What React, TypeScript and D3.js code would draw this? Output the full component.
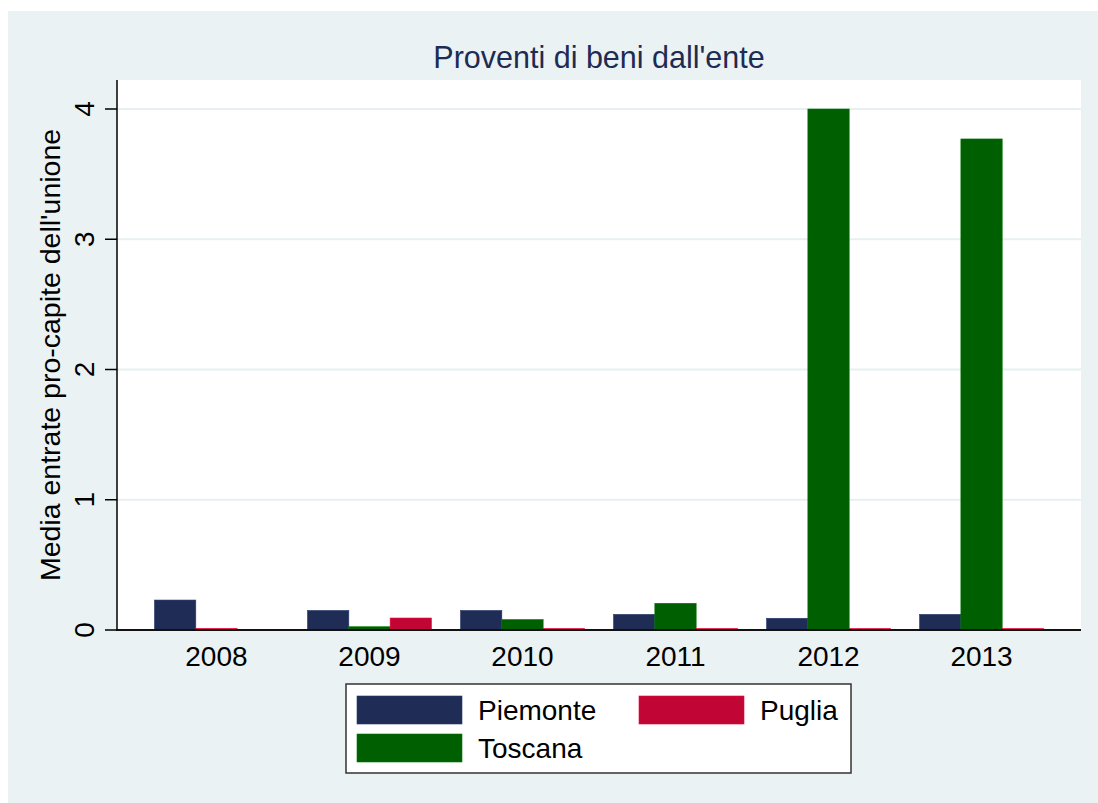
import React from 'react';
import * as d3 from 'd3';

const years = ['2008', '2009', '2010', '2011', '2012', '2013'];
const seriesNames = ['Piemonte', 'Toscana', 'Puglia'];
const piemonte = [0.23, 0.15, 0.15, 0.12, 0.09, 0.12];
const toscana: (number | null)[] = [null, 0.025, 0.08, 0.205, 4.0, 3.77];
const puglia = [0.013, 0.092, 0.012, 0.012, 0.012, 0.012];
const yTicks = [0, 1, 2, 3, 4];
const colors: Record<string, string> = { Piemonte: '#1f2d56', Toscana: '#005f00', Puglia: '#c10534' };
const values: Record<string, (number | null)[]> = { Piemonte: piemonte, Toscana: toscana, Puglia: puglia };
const legendOrder = [
  ['Piemonte', 0, 0],
  ['Puglia', 1, 0],
  ['Toscana', 0, 1],
] as const;

const W = 1098, H = 803;
const L = 117, R = 1081, T = 80, B = 630;
const FONT = '"Liberation Sans", Arial, sans-serif';

export default function App() {
  const x = d3.scalePoint<string>().domain(years).range([L, R]).padding(0.65);
  const step = x.step();
  const slot = d3.scaleBand<number>().domain([0, 1, 2]).range([-0.405 * step, 0.405 * step]).padding(0);
  const y = d3.scaleLinear().domain([0, 4]).range([B, 109]);

  return (
    <svg width={W} height={H} style={{ position: 'absolute', left: 0, top: 0, fontFamily: FONT }}>
      <rect x={0} y={0} width={W} height={H} fill="#ffffff" />
      <rect x={8} y={11} width={W - 8} height={H - 11} fill="#eaf2f3" />
      <rect x={L} y={T} width={R - L} height={B - T} fill="#ffffff" />
      {yTicks.filter(t => t > 0).map(t => (
        <line key={'g' + t} x1={L} x2={R} y1={y(t)} y2={y(t)} stroke="#e6eff1" strokeWidth={2} />
      ))}
      {years.map((yr, i) => {
        const present = seriesNames.filter(s => values[s][i] !== null);
        return present.map((s, k) => {
          const v = values[s][i] as number;
          if (!v) return null;
          const bx = (x(yr) as number) + (slot(k) as number);
          return (
            <rect key={yr + s} x={bx} y={y(v)} width={slot.bandwidth()} height={y(0) - y(v)}
              fill={colors[s]} stroke={d3.color(colors[s])!.brighter(0.6).toString()} strokeWidth={0.6} />
          );
        });
      })}
      <line x1={L} x2={L} y1={T} y2={B} stroke="#000" strokeWidth={1.5} />
      <line x1={L - 1} x2={R} y1={B} y2={B} stroke="#111" strokeWidth={2} />
      {yTicks.map(t => (
        <g key={'t' + t}>
          <line x1={105} x2={L} y1={y(t)} y2={y(t)} stroke="#000" strokeWidth={1.5} />
          <text transform={`translate(94,${y(t)}) rotate(-90)`} textAnchor="middle" fontSize={28} fill="#000">{t}</text>
        </g>
      ))}
      <text transform={`translate(60,355) rotate(-90)`} textAnchor="middle" fontSize={28.5} fill="#000">
        Media entrate pro-capite dell'unione
      </text>
      {years.map(yr => (
        <text key={'x' + yr} x={x(yr)} y={666} textAnchor="middle" fontSize={28} fill="#000">{yr}</text>
      ))}
      <text x={(L + R) / 2} y={68} textAnchor="middle" fontSize={30.5} fill="#1e2b52">Proventi di beni dall'ente</text>
      <rect x={346} y={684} width={505} height={89} fill="#ffffff" stroke="#333" strokeWidth={1.5} />
      {legendOrder.map(([s, col, row]) => (
        <g key={'l' + s} transform={`translate(${357 + col * 282},${696 + row * 38})`}>
          <rect x={0} y={0} width={105} height={28} fill={colors[s]} stroke={d3.color(colors[s])!.brighter(0.6).toString()} strokeWidth={0.6} />
          <text x={121} y={24} fontSize={28} fill="#000">{s}</text>
        </g>
      ))}
    </svg>
  );
}
